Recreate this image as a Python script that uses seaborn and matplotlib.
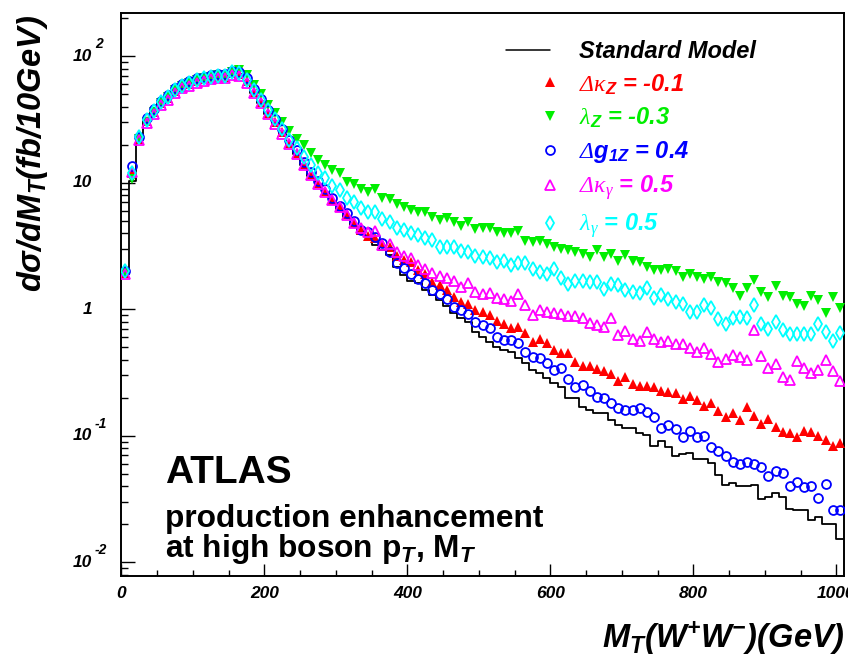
import numpy as np
import matplotlib
matplotlib.use("Agg")
import matplotlib.pyplot as plt
import matplotlib.transforms as mtransforms
import seaborn as sns
from matplotlib.lines import Line2D
from matplotlib.legend_handler import HandlerLine2D
from matplotlib.ticker import FixedLocator, MultipleLocator, LogLocator, NullFormatter

# ---------------- data: d sigma / d M_T per 10 GeV bin, 0 .. 1010 GeV ----------------
bin_width = 10
n_bins = 101
edges = np.arange(n_bins + 1) * bin_width
centers = edges[:-1] + bin_width / 2

sm = [1.9, 10.3, 22.5, 31.0, 36.5, 42.8, 47.5, 53.8, 58.0, 61.0, 64.0, 66.5, 68.5, 69.5, 70.0,
      75.0, 72.5, 63.5, 51.5, 42.5, 35.0, 29.5, 24.5, 20.2, 16.8, 13.7, 11.4, 9.6, 8.3, 7.1,
      6.2, 5.4, 4.6,
      3.9, 3.71, 3.22, 2.94, 2.70, 2.15, 1.87, 1.68, 1.61, 1.42, 1.30, 1.18, 1.06, 0.93, 0.848,
      0.80, 0.666, 0.608, 0.555, 0.507, 0.477, 0.462, 0.41, 0.374, 0.331, 0.315, 0.285, 0.26,
      0.244, 0.198, 0.198, 0.17, 0.16, 0.15,
      0.151, 0.133, 0.1217, 0.1147, 0.1147, 0.1046, 0.1014, 0.0835, 0.0914, 0.082, 0.0693,
      0.0719, 0.0727, 0.0652, 0.0652, 0.0606, 0.049, 0.0409, 0.0427, 0.0401, 0.0401, 0.0409,
      0.0316, 0.0331, 0.0356, 0.0331, 0.0263, 0.026, 0.0257, 0.0214, 0.0228, 0.0199, 0.0199,
      0.0154]

dkappa_z = [1.95, 12.0, 22.3, 30.8, 36.2, 42.4, 46.9, 53.1, 57.4, 60.6, 63.6, 65.7, 67.6, 68.9,
            68.9, 73.2, 71.9, 63.6, 52.4, 43.7, 35.8, 30.2, 25.3, 20.8, 17.3, 14.1, 11.7, 9.9,
            8.6, 7.35, 6.45, 5.65, 4.85,
            4.25, 3.80, 3.64, 3.32, 3.13, 2.64, 2.45, 2.38, 2.05, 1.90, 1.65, 1.56, 1.42, 1.26,
            1.15, 1.10, 0.987, 0.946, 0.90, 0.814, 0.765, 0.708, 0.72, 0.646, 0.555, 0.583, 0.538,
            0.477, 0.449, 0.449, 0.385, 0.356, 0.356, 0.335,
            0.327, 0.308, 0.273, 0.293, 0.257, 0.247, 0.247, 0.2415, 0.227, 0.223, 0.219, 0.195,
            0.206, 0.192, 0.173, 0.183, 0.158, 0.14, 0.151, 0.133, 0.168, 0.143, 0.124, 0.135,
            0.117, 0.108, 0.105, 0.097, 0.109, 0.108, 0.0996, 0.0927, 0.0836, 0.0883]

lambda_z = [1.95, 10.8, 22.0, 30.5, 36.5, 43.0, 47.5, 54.0, 58.5, 61.8, 65.0, 67.0, 69.0, 70.5,
            71.0, 75.5, 78.0, 71.0, 59.3, 50.4, 41.2, 35.8, 30.4, 25.7, 22.3, 19.9, 17.3, 15.0,
            13.7, 12.6, 11.9, 10.1, 9.8,
            8.9, 8.41, 8.88, 7.63, 7.41, 6.76, 6.40, 6.10, 5.91, 5.84, 5.40, 5.08, 5.24, 4.93,
            4.56, 4.93, 4.31, 4.37, 4.37, 4.11, 4.03, 4.03, 4.16, 3.49, 3.42, 3.47, 3.26, 3.09,
            3.00, 2.94, 2.85, 2.74, 2.61, 2.94,
            2.58, 2.74, 2.42, 2.69, 2.41, 2.35, 2.15, 2.05, 2.05, 2.07, 2.01, 1.79, 1.89, 1.81,
            1.74, 1.81, 1.63, 1.61, 1.47, 1.28, 1.48, 1.70, 1.36, 1.24, 1.53, 1.27, 1.26, 1.10,
            1.06, 1.28, 1.18, 0.93, 1.26, 1.03]

dg1_z = [2.0, 13.6, 23.2, 32.3, 38.0, 44.5, 49.3, 55.8, 60.3, 63.6, 66.8, 69.0, 71.0, 72.4, 72.4,
         76.9, 75.6, 66.8, 55.1, 45.9, 37.6, 31.7, 26.6, 21.8, 18.1, 14.7, 12.2, 10.3, 8.9, 7.6,
         6.6, 5.8, 4.95,
         4.24, 4.11, 3.71, 3.32, 2.85, 2.31, 2.11, 1.90, 1.73, 1.61, 1.42, 1.32, 1.21, 1.05, 0.987,
         0.918, 0.80, 0.75, 0.708, 0.608, 0.572, 0.572, 0.545, 0.462, 0.417, 0.41, 0.378, 0.331,
         0.341, 0.279, 0.2415, 0.252, 0.227, 0.201,
         0.198, 0.18, 0.165, 0.16, 0.16, 0.165, 0.153, 0.1415, 0.1147, 0.1217, 0.1125, 0.0973,
         0.11, 0.0973, 0.0996, 0.082, 0.0763, 0.0693, 0.0625, 0.0595, 0.0625, 0.0595, 0.057,
         0.0482, 0.053, 0.0506, 0.0401, 0.0434, 0.0392, 0.0401, 0.0321, 0.0416, 0.0257, 0.026]

dkappa_g = [1.9, 12.2, 21.7, 29.8, 35.0, 41.1, 45.5, 51.5, 55.7, 58.7, 61.7, 63.7, 65.6, 66.8,
            66.8, 71.0, 69.7, 61.7, 50.8, 42.4, 34.7, 29.3, 24.5, 20.4, 17.0, 13.9, 11.6, 9.8,
            8.5, 7.3, 6.4, 5.6, 4.8,
            4.37, 4.11, 4.16, 3.22, 3.26, 2.84, 2.62, 2.53, 2.24, 2.08, 1.92, 1.83, 1.76, 1.67,
            1.51, 1.62, 1.38, 1.32, 1.34, 1.22, 1.20, 1.17, 1.32, 1.08, 0.90, 0.99, 0.958, 0.93,
            0.913, 0.89, 0.89, 0.848, 0.774, 0.75,
            0.729, 0.849, 0.631, 0.677, 0.579, 0.562, 0.665, 0.579, 0.548, 0.565, 0.536, 0.536,
            0.492, 0.462, 0.492, 0.443, 0.385, 0.402, 0.435, 0.422, 0.397, 0.686, 0.43, 0.345,
            0.369, 0.293, 0.276, 0.39, 0.342, 0.315, 0.331, 0.397, 0.327, 0.273]

lambda_g = [1.99, 12.0, 22.8, 31.4, 36.9, 43.3, 47.9, 54.2, 58.6, 61.8, 64.9, 67.0, 69.0, 70.3,
            70.3, 74.7, 73.4, 65.5, 54.5, 45.5, 37.5, 31.7, 26.8, 21.8, 18.7, 16.1, 13.8, 12.0,
            11.0, 9.5, 8.77, 7.54, 7.01,
            6.29, 5.91, 5.91, 5.17, 4.93, 4.37, 4.24, 4.03, 3.87, 3.68, 3.53, 3.13, 3.09, 3.13,
            2.89, 2.85, 2.64, 2.61, 2.53, 2.38, 2.42, 2.24, 2.34, 2.31, 2.07, 1.98, 1.90, 2.07,
            1.78, 1.585, 1.67, 1.67, 1.65, 1.65,
            1.44, 1.585, 1.556, 1.42, 1.36, 1.35, 1.47, 1.22, 1.30, 1.21, 1.15, 1.10, 0.947, 0.957,
            1.08, 1.02, 0.833, 0.765, 0.849, 0.874, 0.849, 1.08, 0.765, 0.699, 0.798, 0.686, 0.638,
            0.638, 0.638, 0.638, 0.761, 0.665, 0.565, 0.646]

y_tick_values = [0.01, 0.1, 1, 10, 100]
y_tick_bases = ["10", "10", "1", "10", "10"]
y_tick_exps = ["-2", "-1", None, None, "2"]
x_tick_values = [0, 200, 400, 600, 800, 1000]

RED, GREEN, BLUE, MAGENTA, CYAN = "#ff0000", "#00ee00", "#0000ff", "#ff00ff", "#00ffff"

# ---------------- style ----------------
sns.set_theme(style="ticks")
plt.rcParams["font.family"] = ["Liberation Sans", "DejaVu Sans"]
plt.rcParams["font.weight"] = "bold"
plt.rcParams["font.style"] = "italic"
plt.rcParams["mathtext.fontset"] = "custom"
plt.rcParams["mathtext.rm"] = "Liberation Sans:italic:bold"
plt.rcParams["mathtext.it"] = "Liberation Sans:italic:bold"
plt.rcParams["mathtext.bf"] = "Liberation Sans:italic:bold"
plt.rcParams["mathtext.sf"] = "Liberation Serif:normal:regular"
plt.rcParams["mathtext.cal"] = "Liberation Sans:bold"
plt.rcParams["axes.unicode_minus"] = False

W, H = 848, 664
fig = plt.figure(figsize=(W / 100, H / 100), dpi=100)
fig.patch.set_facecolor("white")
ax = fig.add_axes([121.5 / W, 1 - 575.5 / H, (843.5 - 121.5) / W, (575.5 - 12.7) / H])
ax.set_facecolor("white")

# Standard Model histogram as a step line
sns.lineplot(x=edges, y=np.append(sm, sm[-1]), drawstyle="steps-post", color="black",
             linewidth=1.3, estimator=None, sort=False, ax=ax, zorder=2)

series = [
    (dkappa_z, RED, "^", True, 7.6),
    (lambda_z, GREEN, "v", True, 7.6),
    (dg1_z, BLUE, "o", False, 6.4),
    (dkappa_g, MAGENTA, "^", False, 7.8),
    (lambda_g, CYAN, "d", False, 7.6),
]
for vals, col, mk, filled, ms in series:
    sns.lineplot(x=centers, y=vals, estimator=None, sort=False, ax=ax, linestyle="",
                 marker=mk, markersize=ms, color=col,
                 markerfacecolor=col if filled else "none", markeredgecolor=col,
                 markeredgewidth=0 if filled else 1.3, zorder=3)

ax.set_yscale("log")
ax.set_xlim(0, 1010)
ax.set_ylim(0.00786, 221)
ax.set_xlabel("")
ax.set_ylabel("")

for side in ["left", "bottom", "top", "right"]:
    ax.spines[side].set_visible(True)
    ax.spines[side].set_linewidth(1.4)
    ax.spines[side].set_color("black")

ax.xaxis.set_major_locator(FixedLocator(x_tick_values))
ax.xaxis.set_minor_locator(MultipleLocator(50))
ax.yaxis.set_major_locator(FixedLocator(y_tick_values))
ax.yaxis.set_minor_locator(LogLocator(base=10, subs=np.arange(2, 10)))
ax.yaxis.set_minor_formatter(NullFormatter())
ax.tick_params(axis="x", which="major", direction="in", length=9, width=1.0, color="black",
               top=False, bottom=True, labelsize=12.5, pad=7.5, labelcolor="black")
ax.tick_params(axis="x", which="minor", direction="in", length=4.5, width=1.0, color="black",
               top=False, bottom=True)
ax.tick_params(axis="y", which="major", direction="in", length=10, width=1.0, color="black",
               left=True, right=False, labelleft=False)
ax.tick_params(axis="y", which="minor", direction="in", length=5, width=1.0, color="black",
               left=True, right=False)
ax.set_xticklabels([str(v) for v in x_tick_values], fontweight="bold", fontstyle="italic")

# y tick labels: base number with a raised exponent
ytrans = mtransforms.blended_transform_factory(fig.transFigure, ax.transData)
exptrans = mtransforms.offset_copy(ytrans, fig=fig, x=0, y=12, units="dots")
for val, base, ex in zip(y_tick_values, y_tick_bases, y_tick_exps):
    ax.text(92 / W, val, base, transform=ytrans, ha="right", va="center", fontsize=12.5,
            fontweight="bold", fontstyle="italic", color="black", clip_on=False)
    if ex is not None:
        ax.text(95 / W, val, ex, transform=exptrans, ha="left", va="center", fontsize=10,
                fontweight="bold", fontstyle="italic", color="black", clip_on=False)

# axis titles
fig.text(33 / W, 1 - 153 / H, "dσ/dM$_{T}$(fb/10GeV)", rotation=90, ha="center", va="center",
         fontsize=23.5, fontweight="bold", fontstyle="italic", color="black")
fig.text(845 / W, 1 - 638 / H, "M$_{T}$(W$^{+}$W$^{-}$)(GeV)", ha="right", va="center",
         fontsize=23.5, fontweight="bold", fontstyle="italic", color="black")

# annotation
fig.text(165 / W, 1 - 483 / H, "ATLAS", ha="left", va="baseline", fontsize=28,
         fontweight="bold", fontstyle="normal", color="black")
fig.text(165 / W, 1 - 527 / H, "production enhancement", ha="left", va="baseline",
         fontsize=22.8, fontweight="bold", fontstyle="normal", color="black")
fig.text(165 / W, 1 - 557 / H, r"at high boson p$_{\mathcal{T}}$, M$_{\mathcal{T}}$",
         ha="left", va="baseline", fontsize=22.8, fontweight="bold", fontstyle="normal",
         color="black")


# legend: markers sit at the right end of the handle box
class EndMarkerHandler(HandlerLine2D):
    def get_xdata(self, legend, xdescent, ydescent, width, height, fontsize):
        x_end = -xdescent + width
        xdata = np.array([x_end - 1.0, x_end + 1.0])
        return xdata, np.array([x_end])


handles = [Line2D([], [], color="black", linewidth=1.1)]
for vals, col, mk, filled, ms in series:
    handles.append(Line2D([], [], linestyle="", marker=mk, markersize=ms, color=col,
                          markerfacecolor=col if filled else "none", markeredgecolor=col,
                          markeredgewidth=0 if filled else 1.3))
labels = ["Standard Model",
          r"$\mathsf{\Delta\kappa}_{Z}$ = -0.1",
          r"$\mathsf{\lambda}_{Z}$ = -0.3",
          r"$\mathsf{\Delta}g_{1Z}$ = 0.4",
          r"$\mathsf{\Delta\kappa}_{\mathsf{\gamma}}$ = 0.5",
          r"$\mathsf{\lambda}_{\mathsf{\gamma}}$ = 0.5"]
text_colors = ["black", RED, GREEN, BLUE, MAGENTA, CYAN]
leg = ax.legend(handles, labels, loc="upper left", bbox_to_anchor=(506 / W, 1 - 40 / H),
                bbox_transform=fig.transFigure, frameon=False, borderpad=0, borderaxespad=0,
                handlelength=1.85, handletextpad=1.25, labelspacing=0.37,
                prop={"family": "Liberation Sans", "weight": "bold", "style": "italic",
                      "size": 17},
                handler_map={h: EndMarkerHandler() for h in handles[1:]})
for t, c in zip(leg.get_texts(), text_colors):
    t.set_color(c)

fig.savefig("out.png", dpi=100, facecolor="white")
